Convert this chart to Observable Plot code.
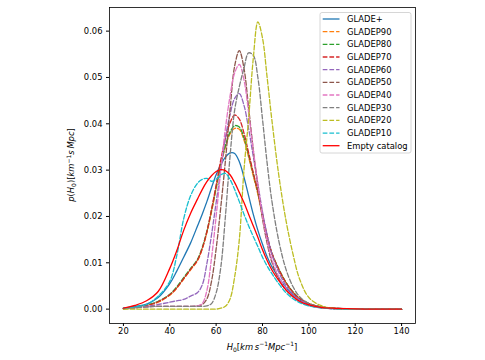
<!DOCTYPE html>
<html><head><meta charset="utf-8">
<script src="https://cdn.jsdelivr.net/npm/d3@7"></script>
<script src="https://cdn.jsdelivr.net/npm/@observablehq/plot@0.6"></script>
<style>body{margin:0;background:#fff}#chart{width:485px;height:360px}</style>
</head><body><div id="chart"></div>
<script>
const H0 = [20,25,30,35,40,43,46,49,52,54,56,58,60,62,64,66,68,70,72,74,76,78,80,82,84,87,90,93,96,100,105,110,120,130,140];

const gladePlus = [0.0002,0.0006,0.0011,0.0025,0.0055,0.0082,0.0112,0.0143,0.0180,0.0205,0.0232,0.0262,0.0290,0.0312,0.0328,0.0337,0.0336,0.0318,0.0285,0.0245,0.0205,0.0170,0.0140,0.0113,0.0092,0.0068,0.0047,0.0032,0.0020,0.0010,0.0005,0.0002,0.00005,0,0];
const gladeP90 = [0.0001,0.0004,0.0008,0.0015,0.0030,0.0045,0.0065,0.0085,0.0105,0.0130,0.0165,0.0210,0.0260,0.0310,0.0350,0.0378,0.0390,0.0388,0.0365,0.0328,0.0288,0.0248,0.0200,0.0155,0.0120,0.0085,0.0058,0.0037,0.0023,0.0012,0.0005,0.0002,0.00005,0,0];
const gladeP80 = [0.0001,0.0004,0.0009,0.0017,0.0032,0.0048,0.0068,0.0088,0.0108,0.0133,0.0168,0.0213,0.0263,0.0313,0.0353,0.0382,0.0396,0.0393,0.0370,0.0333,0.0292,0.0252,0.0204,0.0158,0.0122,0.0087,0.0059,0.0038,0.0023,0.0012,0.0005,0.0002,0.00005,0,0];
const gladeP70 = [0.0001,0.0004,0.0008,0.0016,0.0031,0.0046,0.0066,0.0086,0.0106,0.0131,0.0167,0.0215,0.0268,0.0322,0.0368,0.0402,0.0419,0.0410,0.0380,0.0338,0.0295,0.0254,0.0205,0.0158,0.0122,0.0086,0.0058,0.0037,0.0023,0.0012,0.0005,0.0002,0.00005,0,0];
const gladeP60 = [0.0001,0.0003,0.0006,0.0010,0.0015,0.0018,0.0021,0.0028,0.0036,0.0052,0.0098,0.0160,0.0230,0.0300,0.0370,0.0420,0.0455,0.0465,0.0440,0.0390,0.0330,0.0270,0.0210,0.0160,0.0120,0.0080,0.0052,0.0033,0.0020,0.0010,0.0004,0.0001,0,0,0];
const gladeP50 = [0.0001,0.0003,0.0005,0.0006,0.0006,0.0006,0.0006,0.0006,0.0007,0.0010,0.0022,0.0060,0.0130,0.0220,0.0320,0.0430,0.0525,0.0558,0.0520,0.0435,0.0345,0.0265,0.0195,0.0142,0.0102,0.0065,0.0042,0.0027,0.0016,0.0008,0.0003,0.0001,0,0,0];
const gladeP40 = [0.0001,0.0003,0.0005,0.0006,0.0006,0.0006,0.0006,0.0006,0.0007,0.0012,0.0040,0.0110,0.0200,0.0300,0.0390,0.0460,0.0510,0.0528,0.0495,0.0425,0.0345,0.0270,0.0200,0.0148,0.0108,0.0070,0.0045,0.0028,0.0017,0.0008,0.0003,0.0001,0,0,0];
const gladeP30 = [0.0001,0.0003,0.0005,0.0006,0.0006,0.0006,0.0006,0.0006,0.0006,0.0006,0.0007,0.0012,0.0035,0.0090,0.0200,0.0330,0.0430,0.0480,0.0520,0.0553,0.0548,0.0500,0.0410,0.0315,0.0235,0.0148,0.0088,0.0050,0.0027,0.0012,0.0005,0.0002,0,0,0];
const gladeP20 = [0,0,0,0,0,0,0,0,0,0,0,0,0,0.0002,0.0006,0.0022,0.0070,0.0150,0.0300,0.0410,0.0540,0.0620,0.0585,0.0500,0.0410,0.0290,0.0195,0.0122,0.0065,0.0025,0.0008,0.0002,0,0,0];
const gladeP10 = [0.0002,0.0005,0.0010,0.0028,0.0060,0.0115,0.0195,0.0245,0.0272,0.0280,0.0282,0.0276,0.0280,0.0290,0.0293,0.0280,0.0258,0.0232,0.0205,0.0180,0.0157,0.0135,0.0112,0.0093,0.0077,0.0055,0.0036,0.0023,0.0014,0.0007,0.0003,0.0001,0,0,0];
const emptyCatalog = [0.0002,0.0008,0.0018,0.0038,0.0088,0.0126,0.0170,0.0207,0.0238,0.0258,0.0275,0.0288,0.0297,0.0301,0.0299,0.0290,0.0273,0.0252,0.0230,0.0205,0.0180,0.0155,0.0128,0.0105,0.0085,0.0062,0.0042,0.0028,0.0017,0.0009,0.0004,0.0002,0.00005,0,0];

const seriesNames = ["GLADE+","GLADEP90","GLADEP80","GLADEP70","GLADEP60","GLADEP50","GLADEP40","GLADEP30","GLADEP20","GLADEP10","Empty catalog"];
const seriesValues = [gladePlus,gladeP90,gladeP80,gladeP70,gladeP60,gladeP50,gladeP40,gladeP30,gladeP20,gladeP10,emptyCatalog];
const seriesColors = ["#1f77b4","#ff7f0e","#2ca02c","#d62728","#9467bd","#8c564b","#e377c2","#7f7f7f","#bcbd22","#17becf","#ff0000"];
const seriesDashed = [false,true,true,true,true,true,true,true,true,true,false];
const xTicks = [20,40,60,80,100,120,140];
const yTicks = [0,0.01,0.02,0.03,0.04,0.05,0.06];

const font = "'DejaVu Sans', sans-serif";
const dash = "4.7,2";

const rows = seriesNames.flatMap((name, i) => H0.map((h, j) => ({series: name, idx: i, h, p: seriesValues[i][j]})));

const lineMarks = seriesNames.map((name, i) => Plot.line(rows.filter(r => r.idx === i), {
  x: "h", y: "p", stroke: seriesColors[i], strokeWidth: 1.3,
  strokeDasharray: seriesDashed[i] ? dash : null, curve: "catmull-rom"
}));

const W = 485, Hh = 360, mL = 109, mR = 70, mT = 7, mB = 37;
const plot = Plot.plot({
  width: W, height: Hh, marginLeft: mL, marginRight: mR, marginTop: mT, marginBottom: mB,
  style: {fontFamily: font, fontSize: "8.4px", color: "#000", background: "#fff"},
  x: {domain: [14, 146], ticks: xTicks, label: null, tickSize: 3, tickPadding: 2},
  y: {domain: [-0.0031, 0.0651], ticks: yTicks, tickFormat: d3.format(".2f"), label: null, tickSize: 3, tickPadding: 4},
  marks: [...lineMarks, Plot.frame({stroke: "#000", strokeWidth: 0.8})]
});

const svg = d3.select(plot);
// Legend
const lg = svg.append("g").attr("font-family", font).attr("font-size", "8.4px").attr("text-anchor", "start");
const lx = 320, ly = 12.5, lw = 91, rowH = 12.67;
lg.append("rect").attr("x", lx).attr("y", ly).attr("width", lw).attr("height", 140.5)
  .attr("rx", 2).attr("fill", "#fff").attr("fill-opacity", 0.8).attr("stroke", "#cccccc").attr("stroke-width", 0.8);
seriesNames.forEach((name, i) => {
  const y = 19 + i * rowH;
  lg.append("line").attr("x1", 322.7).attr("x2", 339.5).attr("y1", y).attr("y2", y)
    .attr("stroke", seriesColors[i]).attr("stroke-width", 1.3)
    .attr("stroke-dasharray", seriesDashed[i] ? dash : null);
  lg.append("text").attr("x", 347).attr("y", y).attr("dy", "0.35em").attr("text-anchor", "start").attr("fill", "#000").text(name);
});

// Axis labels (mathtext-like)
function addParts(t, parts) {
  parts.forEach(([txt, style]) => {
    const ts = t.append("tspan").text(txt);
    if (style.includes("i")) ts.attr("font-style", "italic");
    if (style.includes("sub")) ts.attr("font-size", "6px").attr("dy", "2.2");
    if (style.includes("sup")) ts.attr("font-size", "6px").attr("dy", "-3.4");
    if (style.includes("b0")) ts.attr("dy", "-2.2");
    if (style.includes("b1")) ts.attr("dy", "3.4");
  });
}
const xl = svg.append("text").attr("x", (mL + W - mR) / 2).attr("y", 349.5)
  .attr("text-anchor", "middle").attr("font-family", font).attr("font-size", "8.4px").attr("fill", "#000");
addParts(xl, [["H","i"],["0","sub"],["[","b0"],["km","i"],["\u2009s","i"],["\u22121","sup"],["Mpc","i b1"],["\u22121","sup"],["]","b1"]]);

const yl = svg.append("text").attr("transform", `translate(74,${(mT + Hh - mB) / 2}) rotate(-90)`)
  .attr("text-anchor", "middle").attr("font-family", font).attr("font-size", "8.4px").attr("fill", "#000");
addParts(yl, [["p","i"],["(",""],["H","i"],["0","sub"],[")[","b0"],["km","i"],["\u22121","sup"],["s","i b1"],["\u2009Mpc","i"],["]",""]]);

document.getElementById("chart").appendChild(plot);
</script>
</body></html>
